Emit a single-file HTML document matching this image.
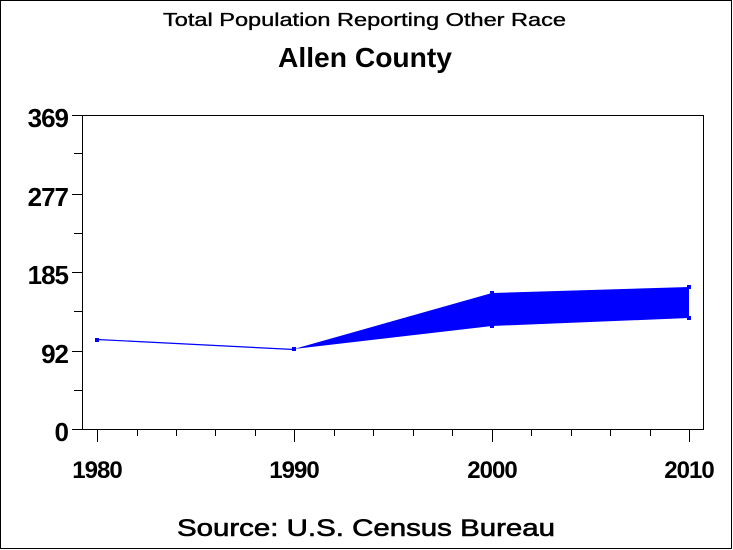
<!DOCTYPE html>
<html>
<head>
<meta charset="utf-8">
<style>
  html, body { margin: 0; padding: 0; background: #fff; }
  svg { display: block; }
  text { font-family: "Liberation Sans", Arial, sans-serif; fill: #000; }
</style>
</head>
<body>
<svg width="733" height="550" viewBox="0 0 733 550" xmlns="http://www.w3.org/2000/svg">
  <rect x="0" y="0" width="733" height="550" fill="#fff"/>
  <!-- outer frame -->
  <rect x="0.5" y="0.5" width="731" height="548" fill="none" stroke="#000" stroke-width="1"/>

  <!-- titles -->
  <text x="364.5" y="26" font-size="18" text-anchor="middle" textLength="403" lengthAdjust="spacingAndGlyphs" stroke="#000" stroke-width="0.35">Total Population Reporting Other Race</text>
  <text x="365" y="67" font-size="28" font-weight="bold" text-anchor="middle" textLength="174" lengthAdjust="spacingAndGlyphs">Allen County</text>

  <!-- plot frame -->
  <rect x="82.5" y="115.5" width="621" height="314" fill="none" stroke="#000" stroke-width="1"/>

  <!-- y ticks -->
  <g stroke="#000" stroke-width="1">
    <line x1="72" y1="115.5" x2="82" y2="115.5"/>
    <line x1="74" y1="153.5" x2="82" y2="153.5"/>
    <line x1="72" y1="194.5" x2="82" y2="194.5"/>
    <line x1="74" y1="233.5" x2="82" y2="233.5"/>
    <line x1="72" y1="272.5" x2="82" y2="272.5"/>
    <line x1="74" y1="311.5" x2="82" y2="311.5"/>
    <line x1="72" y1="351.5" x2="82" y2="351.5"/>
    <line x1="74" y1="390.5" x2="82" y2="390.5"/>
    <line x1="72" y1="429.5" x2="82" y2="429.5"/>
  </g>
  <g font-size="26" font-weight="bold" text-anchor="end" letter-spacing="-1">
    <text x="68" y="127">369</text>
    <text x="68" y="206">277</text>
    <text x="68" y="284">185</text>
    <text x="68" y="363">92</text>
    <text x="68" y="441">0</text>
  </g>

  <!-- x ticks -->
  <g stroke="#000" stroke-width="1">
    <line x1="97.5" y1="429" x2="97.5" y2="442"/>
    <line x1="137.5" y1="429" x2="137.5" y2="436"/>
    <line x1="176.5" y1="429" x2="176.5" y2="436"/>
    <line x1="215.5" y1="429" x2="215.5" y2="436"/>
    <line x1="255.5" y1="429" x2="255.5" y2="436"/>
    <line x1="294.5" y1="429" x2="294.5" y2="442"/>
    <line x1="334.5" y1="429" x2="334.5" y2="436"/>
    <line x1="373.5" y1="429" x2="373.5" y2="436"/>
    <line x1="413.5" y1="429" x2="413.5" y2="436"/>
    <line x1="452.5" y1="429" x2="452.5" y2="436"/>
    <line x1="492.5" y1="429" x2="492.5" y2="442"/>
    <line x1="531.5" y1="429" x2="531.5" y2="436"/>
    <line x1="571.5" y1="429" x2="571.5" y2="436"/>
    <line x1="610.5" y1="429" x2="610.5" y2="436"/>
    <line x1="650.5" y1="429" x2="650.5" y2="436"/>
    <line x1="689.5" y1="429" x2="689.5" y2="442"/>
  </g>
  <g font-size="24" font-weight="bold" text-anchor="middle" letter-spacing="-1">
    <text x="97" y="478">1980</text>
    <text x="294" y="478">1990</text>
    <text x="492" y="478">2000</text>
    <text x="689" y="478">2010</text>
  </g>

  <!-- data -->
  <line x1="97" y1="339.5" x2="294" y2="349.5" stroke="#0000ff" stroke-width="1.2"/>
  <polygon points="294,349 492,293 689,287 689,318 492,326" fill="#0000ff"/>
  <g fill="#0000ff">
    <rect x="95" y="338" width="4" height="4"/>
    <rect x="292" y="347" width="4" height="4"/>
    <rect x="490" y="291" width="4" height="4"/>
    <rect x="490" y="324" width="4" height="4"/>
    <rect x="687" y="285" width="4" height="4"/>
    <rect x="687" y="316" width="4" height="4"/>
  </g>

  <!-- footer -->
  <text x="366" y="536" font-size="24" text-anchor="middle" textLength="378" lengthAdjust="spacingAndGlyphs" stroke="#000" stroke-width="0.6">Source: U.S. Census Bureau</text>
</svg>
</body>
</html>
